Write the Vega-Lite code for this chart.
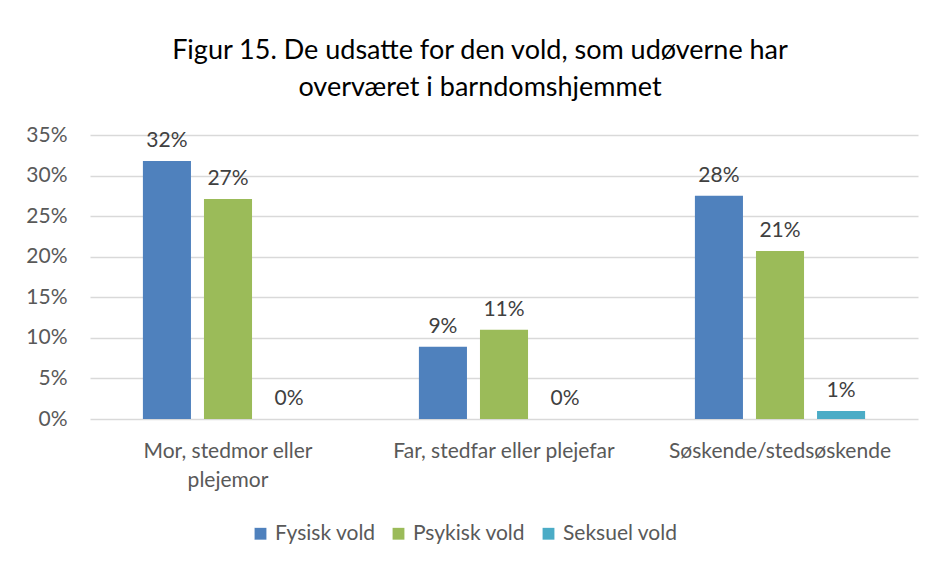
{
  "$schema": "https://vega.github.io/schema/vega-lite/v6.json",
  "autosize": "none",
  "width": 828,
  "height": 284,
  "padding": {"left": 90, "top": 135, "right": 15, "bottom": 145},
  "background": "white",
  "title": {
    "text": ["Figur 15. De udsatte for den vold, som udøverne har", "overværet i barndomshjemmet"],
    "font": "Lato",
    "fontSize": 27,
    "fontWeight": "normal",
    "color": "#000000",
    "lineHeight": 37,
    "anchor": "middle",
    "dx": -24,
    "offset": 22
  },
  "config": {
    "view": {"stroke": null},
    "font": "Lato"
  },
  "data": {
    "values": [
      {"kategori": "Mor, stedmor eller plejemor", "type": "Fysisk vold", "andel": 0.318},
      {"kategori": "Mor, stedmor eller plejemor", "type": "Psykisk vold", "andel": 0.271},
      {"kategori": "Mor, stedmor eller plejemor", "type": "Seksuel vold", "andel": 0.0},
      {"kategori": "Far, stedfar eller plejefar", "type": "Fysisk vold", "andel": 0.089},
      {"kategori": "Far, stedfar eller plejefar", "type": "Psykisk vold", "andel": 0.110},
      {"kategori": "Far, stedfar eller plejefar", "type": "Seksuel vold", "andel": 0.0},
      {"kategori": "Søskende/stedsøskende", "type": "Fysisk vold", "andel": 0.275},
      {"kategori": "Søskende/stedsøskende", "type": "Psykisk vold", "andel": 0.207},
      {"kategori": "Søskende/stedsøskende", "type": "Seksuel vold", "andel": 0.010}
    ]
  },
  "encoding": {
    "x": {
      "field": "kategori",
      "type": "nominal",
      "sort": null,
      "scale": {"paddingInner": 0.34, "paddingOuter": 0.17},
      "axis": {
        "title": null,
        "labelAngle": 0,
        "domain": false,
        "ticks": false,
        "labelFont": "Lato",
        "labelFontSize": 21,
        "labelColor": "#595959",
        "labelPadding": 21,
        "labelLineHeight": 29,
        "labelLimit": 400,
        "labelExpr": "datum.value == 'Mor, stedmor eller plejemor' ? ['Mor, stedmor eller', 'plejemor'] : datum.value"
      }
    },
    "xOffset": {
      "field": "type",
      "type": "nominal",
      "sort": ["Fysisk vold", "Psykisk vold", "Seksuel vold"],
      "scale": {"paddingInner": 0.213, "paddingOuter": 0.098}
    },
    "y": {
      "field": "andel",
      "type": "quantitative",
      "scale": {"domain": [0, 0.35]},
      "axis": {
        "title": null,
        "format": ".0%",
        "values": [0, 0.05, 0.1, 0.15, 0.2, 0.25, 0.3, 0.35],
        "domain": false,
        "ticks": false,
        "labelFont": "Lato",
        "labelFontSize": 21,
        "labelColor": "#595959",
        "labelPadding": 23,
        "gridColor": "#d9d9d9",
        "gridWidth": 1.5
      }
    }
  },
  "layer": [
    {
      "mark": {"type": "bar"},
      "encoding": {
        "color": {
          "field": "type",
          "type": "nominal",
          "sort": ["Fysisk vold", "Psykisk vold", "Seksuel vold"],
          "scale": {"domain": ["Fysisk vold", "Psykisk vold", "Seksuel vold"], "range": ["#4F81BD", "#9BBB59", "#4BACC6"]},
          "legend": {
            "title": null,
            "orient": "none",
            "direction": "horizontal",
            "legendX": 160,
            "legendY": 388,
            "symbolType": "square",
            "symbolSize": 140,
            "symbolStrokeWidth": 0,
            "labelFont": "Lato",
            "labelFontSize": 21,
            "labelColor": "#595959",
            "labelOffset": 4,
            "columnPadding": 12
          }
        }
      }
    },
    {
      "mark": {"type": "text", "baseline": "bottom", "dy": -10, "font": "Lato", "fontSize": 21, "color": "#404040"},
      "encoding": {
        "text": {"field": "andel", "type": "quantitative", "format": ".0%"}
      }
    }
  ]
}
